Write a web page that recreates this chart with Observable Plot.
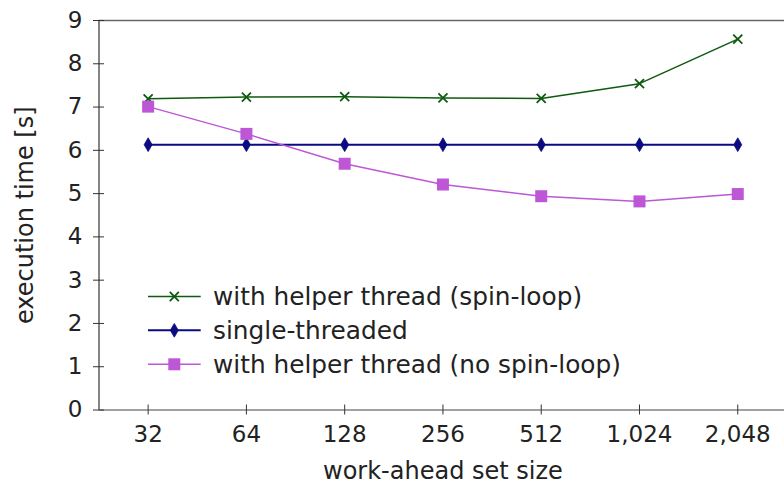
<!DOCTYPE html>
<html><head><meta charset="utf-8">
<script src="https://cdn.jsdelivr.net/npm/d3@7"></script>
<script src="https://cdn.jsdelivr.net/npm/@observablehq/plot@0.6"></script>
<style>
body{margin:0;background:#fff}
#chart{position:relative;width:784px;height:486px;overflow:hidden}
#chart svg{position:absolute;left:0;top:0}
</style></head><body><div id="chart"></div>
<script>
// ---- data ----
const sizes = [32, 64, 128, 256, 512, 1024, 2048];
const spinLoop = [7.19, 7.23, 7.24, 7.21, 7.20, 7.54, 8.57];
const singleThreaded = [6.13, 6.13, 6.13, 6.13, 6.13, 6.13, 6.13];
const noSpinLoop = [7.01, 6.38, 5.69, 5.21, 4.94, 4.82, 4.99];
const seriesNames = ["with helper thread (spin-loop)", "single-threaded", "with helper thread (no spin-loop)"];
const yTicks = [0, 1, 2, 3, 4, 5, 6, 7, 8, 9];
const xLabel = "work-ahead set size";
const yLabel = "execution time [s]";

// ---- styles ----
const styles = [
  {name: seriesNames[0], values: spinLoop, color: "#0e5a10", symbol: "times", d3symbol: d3.symbolTimes, size: 55, width: 1.5},
  {name: seriesNames[1], values: singleThreaded, color: "#0a0a82", symbol: "diamond", d3symbol: d3.symbolDiamond, size: 55, width: 2},
  {name: seriesNames[2], values: noSpinLoop, color: "#bd57d5", symbol: "square", d3symbol: d3.symbolSquare, size: 144, width: 1.5}
];
const FONT = "DejaVu Sans";
const W = 784, H = 486;
const ML = 98.5, MT = 20, MB = 76.5, MR = -2.4;
const xDomain = [sizes[0] / Math.SQRT2, sizes[sizes.length - 1] * Math.SQRT2];

const marks = [
  Plot.ruleY([yTicks[yTicks.length - 1]], {stroke: "#666", strokeWidth: 1.5}),
  Plot.ruleX([xDomain[0]], {stroke: "#333", strokeWidth: 1.2}),
  Plot.ruleY([0], {stroke: "#444", strokeWidth: 1.2}),
  Plot.axisY(yTicks, {anchor: "left", tickSize: 11, insetLeft: 5.5, tickPadding: 11, label: null, stroke: "#333", fill: "#222"}),
  Plot.axisX(sizes, {anchor: "bottom", tickSize: 10, insetBottom: 5, tickPadding: 11, tickFormat: d3.format(","), label: null, stroke: "#333", fill: "#222"}),
  Plot.text([yLabel], {frameAnchor: "left", textAnchor: "middle", rotate: -90, dx: -74, fontSize: 24, fill: "#222"}),
  Plot.text([xLabel], {frameAnchor: "bottom", dy: 69, fontSize: 24, fill: "#222"})
];
for (const s of styles) {
  const data = sizes.map((x, i) => ({x, y: s.values[i]}));
  marks.push(Plot.line(data, {x: "x", y: "y", stroke: s.color, strokeWidth: s.width}));
  const r = Math.sqrt(s.size / Math.PI);
  if (s.symbol === "times") {
    marks.push(Plot.dot(data, {x: "x", y: "y", symbol: "times", r, stroke: s.color, strokeWidth: 1.8}));
  } else if (s.symbol === "diamond") {
    marks.push(Plot.dot(data, {x: "x", y: "y", symbol: s.symbol, r, fill: s.color, stroke: s.color, strokeWidth: 0.8}));
  } else {
    marks.push(Plot.dot(data, {x: "x", y: "y", symbol: s.symbol, r, fill: s.color, stroke: "none"}));
  }
}

const plot = Plot.plot({
  width: W, height: H,
  marginLeft: ML, marginTop: MT, marginBottom: MB, marginRight: MR,
  style: {fontFamily: FONT, fontSize: "23px", background: "#fff", color: "#222"},
  x: {type: "log", base: 2, domain: xDomain},
  y: {domain: [0, 9]},
  marks
});
document.getElementById("chart").appendChild(plot);

// ---- legend overlay ----
const leg = d3.select("#chart").append("svg").attr("width", W).attr("height", H)
  .style("pointer-events", "none");
const rowY = [296.5, 330.3, 364.3];
styles.forEach((s, i) => {
  const g = leg.append("g").attr("transform", `translate(0,${rowY[i]})`);
  g.append("line").attr("x1", 148).attr("x2", 200.7).attr("y1", 0).attr("y2", 0)
    .attr("stroke", s.color).attr("stroke-width", s.width);
  const p = g.append("path").attr("transform", "translate(174.3,0)")
    .attr("d", d3.symbol(s.d3symbol, s.size)());
  if (s.symbol === "times") p.attr("fill", "none").attr("stroke", s.color).attr("stroke-width", 1.8);
  else if (s.symbol === "diamond") p.attr("fill", s.color).attr("stroke", s.color).attr("stroke-width", 0.8);
  else p.attr("fill", s.color);
  g.append("text").attr("x", 213).attr("y", 0).attr("dy", "0.35em")
    .attr("font-family", FONT).attr("font-size", 24.8).attr("fill", "#222").text(s.name);
});
</script></body></html>
